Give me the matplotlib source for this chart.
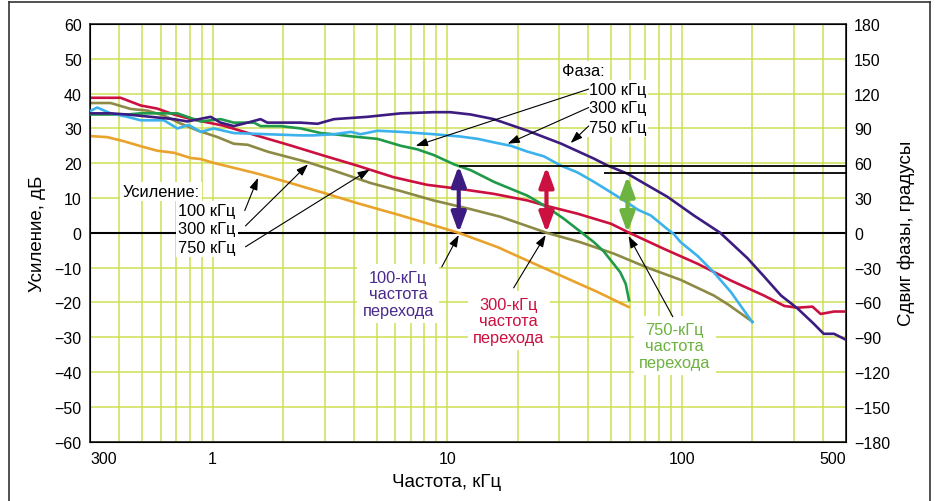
import matplotlib
matplotlib.use('Agg')
import matplotlib.pyplot as plt
from matplotlib.ticker import FixedLocator, FixedFormatter, LogLocator, NullFormatter
from matplotlib.lines import Line2D

plt.rcParams['font.family'] = ['Liberation Sans', 'DejaVu Sans']

# Усиление (дБ), частота в кГц
f_g100 = [0.3, 0.355, 0.419, 0.493, 0.58, 0.684, 0.806, 0.889, 1.01, 1.555, 2.15, 2.97,
          4.15, 6.34, 11.2, 16.4, 22.7, 31.5, 43.8, 59.4]
g100 = [27.8, 27.5, 26.3, 24.9, 23.6, 23.0, 21.5, 21.2, 20.1, 17.0, 14.3, 11.5,
        8.5, 5.0, 0.0, -4.1, -8.4, -12.7, -17.0, -21.3]

f_g300 = [0.3, 0.367, 0.447, 0.528, 0.62, 0.73, 0.863, 1.05, 1.23, 1.41, 1.72, 2.54, 3.28,
          4.72, 6.34, 8.76, 12.6, 16.9, 26.6, 37, 51.5, 71.4, 98.9, 137, 157, 200]
g300 = [37.3, 37.3, 35.6, 35.1, 33.7, 31.4, 29.4, 27.5, 25.6, 25.3, 23.3, 20.3, 17.9,
        14.3, 12.0, 9.3, 6.8, 4.6, 0.0, -2.7, -6.0, -10.0, -13.5, -18.0, -20.5, -25.5]

f_g750 = [0.3, 0.405, 0.493, 0.58, 0.684, 0.806, 1.11, 1.55, 2.15, 2.97, 4.14, 5.9, 8.2,
          11.4, 15.8, 22, 26.7, 36, 50, 59, 84, 117, 162, 224, 274, 311, 344, 361, 391, 446, 500]
g750 = [38.8, 38.8, 36.6, 35.7, 34.0, 32.7, 30.8, 27.9, 25.1, 22.2, 19.3, 16.0, 13.8,
        12.6, 11.2, 9.3, 7.7, 5.5, 2.6, 0.2, -4.6, -8.9, -13.7, -18.0, -21.0, -21.5, -21.3,
        -21.2, -23.3, -22.6, -22.6]

# Фаза (градусы)
f_p100 = [0.3, 0.433, 0.493, 0.6, 0.707, 0.78, 0.889, 1.08, 1.23, 1.5, 1.6, 1.95, 2.37, 2.89,
          3.28, 3.99, 5.04, 6.35, 7.45, 8.78, 10.7, 12.6, 15.8, 22, 26.7, 31.5, 37, 42.2,
          46.5, 54.7, 57.7, 59.6]
p100 = [102, 102, 103, 103, 103, 100, 96, 98, 95, 95, 92, 92, 90, 86,
        85, 83, 81, 75, 72, 67, 59, 54, 44, 32, 22, 12, 1, -8,
        -16, -34, -44, -58]

f_p300 = [0.3, 0.322, 0.367, 0.433, 0.493, 0.62, 0.707, 0.79, 0.889, 1.01, 1.23, 1.71, 2.37,
          2.7, 3.29, 3.88, 4.28, 5.04, 6.35, 8.78, 11.4, 13.5, 15.8, 18.7, 22, 25.8, 30.5,
          36, 42.2, 49.8, 58.7, 64.9, 73.8, 87.1, 92.4, 98.9, 117, 137, 162, 178.5, 200]
p300 = [105, 108, 103, 100, 97, 97, 90, 93, 87, 90, 86, 85, 84,
        84, 85, 87, 85, 88, 87, 85, 83, 81, 78, 75, 70, 66, 58,
        52, 44, 35, 26, 20, 15, 3, -1, -8, -20, -34, -51, -63, -77]

f_p750 = [0.3, 0.367, 0.433, 0.544, 0.684, 0.78, 0.98, 1.08, 1.23, 1.41, 1.6, 1.71, 2.37,
          2.8, 3.29, 4.57, 6.35, 8.78, 10.3, 12.6, 15.8, 22, 30.5, 42.2, 48.3, 58.7, 70,
          87, 112.6, 146, 191, 223, 265, 311, 364, 403, 446, 500]
p750 = [103, 103, 102, 100, 98, 96, 100, 95, 92, 95, 98, 95, 95,
        94, 98, 100, 103, 104, 104, 102, 98, 88, 77, 64, 58, 51, 42,
        31, 15, 0, -22, -37, -54, -65, -78, -87, -87, -92]

# частоты перехода и запас по фазе
f_cross = [11.2, 26.5, 58.7]
pm_top = [58, 57, 49]
pm_line_start = [11.2, 46.4]
pm_line_deg = [58, 51.4]

x_ticks = [0.3, 1, 10, 100, 500]
x_labels = ['300', '1', '10', '100', '500']

grid_c = '#cddf55'
c_orange = '#e9a22c'
c_olive = '#8c8a44'
c_red = '#cc1040'
c_green = '#1f9a4a'
c_blue = '#3bb2ec'
c_purple = '#3c1c80'
c_arr_green = '#6cb33f'

fs = 11.8

fig = plt.figure(figsize=(9.36, 5.02), dpi=100)
ax = fig.add_axes([0.0962, 0.1181, 0.8073, 0.8321])
ax.set_xscale('log')
ax.set_xlim(0.3, 500)
ax.set_ylim(-60, 60)
ax.set_yticks(range(-60, 61, 10))
ax.xaxis.set_major_locator(FixedLocator(x_ticks))
ax.xaxis.set_major_formatter(FixedFormatter(x_labels))
ax.xaxis.set_minor_locator(LogLocator(base=10, subs=range(2, 10)))
ax.xaxis.set_minor_formatter(NullFormatter())
ax.tick_params(which='both', length=0, labelsize=11.5)
ax.tick_params(axis='y', pad=6)
ax.tick_params(axis='x', pad=7)
ax.grid(which='both', axis='x', color=grid_c, lw=1.1)
ax.grid(which='major', axis='y', color=grid_c, lw=1.1)
ax.set_axisbelow(True)
ticks = ax.xaxis.get_major_ticks()
ticks[0].label1.set_horizontalalignment('left')
ticks[-1].label1.set_horizontalalignment('right')
for s in ax.spines.values():
    s.set_color('#222222')
    s.set_linewidth(1.2)

ax.axhline(0, color='black', lw=1.5, zorder=2)

ax.plot(f_g100, g100, color=c_orange, lw=1.9, zorder=3)
ax.plot(f_g300, g300, color=c_olive, lw=1.9, zorder=3)
ax.plot(f_g750, g750, color=c_red, lw=1.9, zorder=3)

ax.set_xlabel('Частота, кГц', fontsize=13.5, labelpad=5, x=0.472)
ax.set_ylabel('Усиление, дБ', fontsize=13.5, labelpad=6)

ax2 = ax.twinx()
ax2.set_ylim(-180, 180)
ax2.set_yticks(range(-180, 181, 30))
ax2.tick_params(length=0, labelsize=11.5, pad=6)
ax2.set_ylabel('Сдвиг фазы, градусы', fontsize=13.5, labelpad=5)

ax2.plot(f_p100, p100, color=c_green, lw=1.9, zorder=3)
ax2.plot(f_p300, p300, color=c_blue, lw=1.9, zorder=3)
ax2.plot(f_p750, p750, color=c_purple, lw=1.9, zorder=3)

ax2.hlines(pm_line_deg, pm_line_start, 500, color='black', lw=1.3, zorder=4)

# стрелки запаса по фазе
for fc, top, c in zip(f_cross, pm_top, [c_purple, c_red, c_arr_green]):
    ax2.annotate('', xy=(fc, top), xytext=(fc, 0),
                 arrowprops=dict(arrowstyle='<|-|>,head_length=0.6,head_width=0.22',
                                 mutation_scale=20, lw=3, color=c,
                                 shrinkA=0, shrinkB=0), zorder=6)

box = dict(facecolor='white', edgecolor='none', pad=1.5)
tr = ax.transData


def pointer(tip, start):
    ax2.annotate('', xy=tip, xytext=start, xycoords=tr, textcoords=tr,
                 arrowprops=dict(arrowstyle='-|>,head_length=0.72,head_width=0.25',
                                 mutation_scale=10, lw=0.8, color='black',
                                 shrinkA=0, shrinkB=0), zorder=8)


# подписи усиления
ax2.text(0.413, 11.8, 'Усиление:', transform=tr, ha='left', va='center',
         fontsize=fs, bbox=box, zorder=7)
for y, s in zip([6.3, 1.15, -4.2], ['100 кГц', '300 кГц', '750 кГц']):
    ax2.text(1.25, y, s, transform=tr, ha='right', va='center', fontsize=fs,
             bbox=box, zorder=7)
pointer((1.56, 15.8), (1.37, 6.4))
pointer((2.55, 19.7), (1.38, 2.0))
pointer((4.67, 18.2), (1.38, -4.0))

# подписи фазы
ax2.text(30.8, 46.5, 'Фаза:', transform=tr, ha='left', va='center',
         fontsize=fs, bbox=box, zorder=7)
for y, s in zip([41.1, 35.9, 30.4], ['100 кГц', '300 кГц', '750 кГц']):
    ax2.text(40.1, y, s, transform=tr, ha='left', va='center', fontsize=fs,
             bbox=box, zorder=7)
pointer((7.34, 25.0), (40.1, 41.3))
pointer((18.1, 25.6), (40.1, 36.0))
pointer((33.6, 25.8), (40.1, 30.7))

# частоты перехода
box2 = dict(facecolor='white', edgecolor='none', pad=4)
for (x, y), s, c in zip([(6.18, -17.5), (18.3, -25.3), (93.4, -32.4)],
                        ['100-кГц', '300-кГц', '750-кГц'],
                        ['#4b2a8c', c_red, c_arr_green]):
    ax2.text(x, y, s + '\nчастота\nперехода', transform=tr, ha='center', va='center',
             multialignment='center', fontsize=fs, color=c, bbox=box2, zorder=7,
             linespacing=1.12)
pointer((11.2, -0.6), (9.48, -9.8))
pointer((26.3, -0.6), (19.2, -15.8))
pointer((59.3, -0.9), (91.6, -24.1))

# рамка рисунка
for xs, ys in [([0.0096, 0.0096], [0, 0.994]), ([0.0096, 0.9936], [0.994, 0.994]),
               ([0.9936, 0.9936], [0.994, 0])]:
    fig.add_artist(Line2D(xs, ys, transform=fig.transFigure, color='#333333', lw=1.2))

fig.savefig('out.png', dpi=100)
